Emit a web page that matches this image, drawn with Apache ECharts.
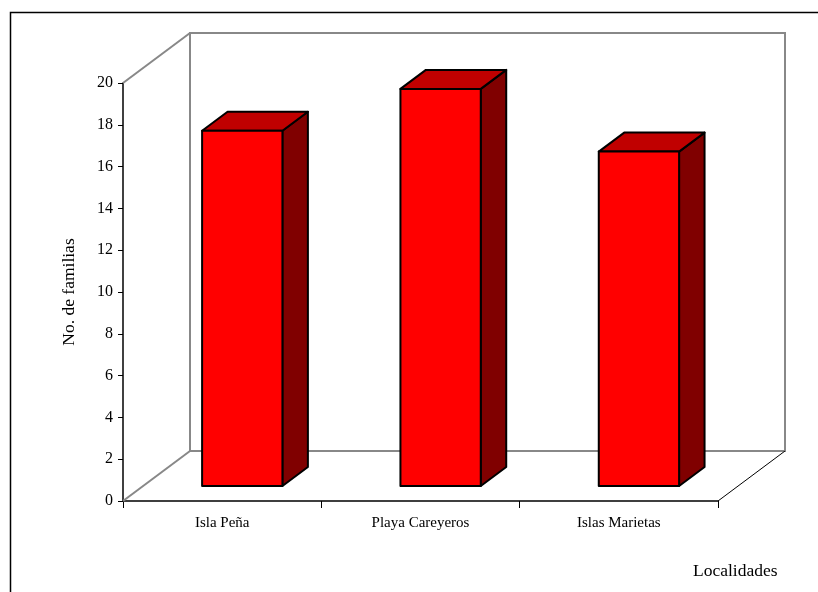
<!DOCTYPE html>
<html>
<head>
<meta charset="utf-8">
<script src="https://cdn.jsdelivr.net/npm/echarts@6/dist/echarts.min.js"></script>
<style>
  html, body { margin: 0; padding: 0; background: #fff; }
  #chart { width: 818px; height: 592px; }
</style>
</head>
<body>
<div id="chart"></div>
<script>
// datos
const categories = ['Isla Peña', 'Playa Careyeros', 'Islas Marietas'];
const familias = [17, 19, 16];
const yTicks = [0, 2, 4, 6, 8, 10, 12, 14, 16, 18, 20];

// profundidad del efecto 3D
const DX = 67, DY = -50;
const F0 = 0.3, F1 = 0.68;
const FONT = 'Liberation Serif';

const chart = echarts.init(document.getElementById('chart'));

function renderWalls(params, api) {
  const cs = params.coordSys;
  const x0 = cs.x, x1 = cs.x + cs.width;
  const yTop = api.coord([0, yTicks[yTicks.length - 1]])[1];
  const yBot = api.coord([0, yTicks[0]])[1];
  const gray = { stroke: '#888', lineWidth: 2, fill: null };
  return {
    type: 'group',
    children: [
      { type: 'polyline', shape: { points: [[x0 + DX, yBot + DY], [x0 + DX, yTop + DY], [x1 + DX, yTop + DY], [x1 + DX, yBot + DY], [x0 + DX, yBot + DY]] }, style: gray },
      { type: 'line', shape: { x1: x0, y1: yTop, x2: x0 + DX, y2: yTop + DY }, style: gray },
      { type: 'line', shape: { x1: x0, y1: yBot, x2: x0 + DX, y2: yBot + DY }, style: gray },
      { type: 'line', shape: { x1: x1, y1: yBot, x2: x1 + DX, y2: yBot + DY }, style: { stroke: '#000', lineWidth: 1 } }
    ]
  };
}

function renderBar(params, api) {
  const i = api.value(0);
  const base = api.coord([i, 0]);
  const top = api.coord([i, api.value(1)]);
  const band = api.size([1, 0])[0];
  const w = band * 0.405;
  const fx = base[0] + DX * F0 - w / 2;
  const fyb = base[1] + DY * F0;
  const fyt = top[1] + DY * F0;
  const ddx = DX * (F1 - F0), ddy = DY * (F1 - F0);
  const edge = { stroke: '#000', lineWidth: 2, lineJoin: 'round' };
  return {
    type: 'group',
    children: [
      { type: 'polygon', shape: { points: [[fx + w, fyt], [fx + w + ddx, fyt + ddy], [fx + w + ddx, fyb + ddy], [fx + w, fyb]] }, style: Object.assign({ fill: '#800000' }, edge) },
      { type: 'polygon', shape: { points: [[fx, fyt], [fx + ddx, fyt + ddy], [fx + w + ddx, fyt + ddy], [fx + w, fyt]] }, style: Object.assign({ fill: '#c00000' }, edge) },
      { type: 'rect', shape: { x: fx, y: fyt, width: w, height: fyb - fyt }, style: Object.assign({ fill: '#ff0000' }, edge) }
    ]
  };
}

chart.setOption({
  animation: false,
  backgroundColor: '#fff',
  grid: { left: 123, right: 100, top: 83, bottom: 91 },
  xAxis: {
    type: 'category',
    data: categories,
    axisLine: { lineStyle: { color: '#000', width: 1.5 } },
    axisTick: { show: true, interval: 0, length: 7, lineStyle: { color: '#000', width: 1 } },
    axisLabel: { color: '#000', fontFamily: FONT, fontSize: 15, margin: 15 }
  },
  yAxis: {
    type: 'value',
    min: 0, max: 20, interval: 2,
    name: 'No. de familias',
    nameLocation: 'middle',
    nameGap: 45,
    nameRotate: 90,
    nameTextStyle: { color: '#000', fontFamily: FONT, fontSize: 17.5 },
    axisLine: { show: true, lineStyle: { color: '#000', width: 1.5 } },
    axisTick: { show: true, length: 5, lineStyle: { color: '#000' } },
    axisLabel: { color: '#000', fontFamily: FONT, fontSize: 16, margin: 10 },
    splitLine: { show: false }
  },
  graphic: [
    { type: 'rect', shape: { x: 10.5, y: 12.5, width: 900, height: 700 }, style: { fill: null, stroke: '#000', lineWidth: 1.5 }, z: 100 },
    { type: 'text', left: 693, top: 562, style: { text: 'Localidades', fontFamily: FONT, fontSize: 17.5, fill: '#000' } }
  ],
  series: [
    { type: 'custom', silent: true, z: 1, renderItem: renderWalls, data: [[0, 0]] },
    { type: 'custom', z: 2, renderItem: renderBar, data: familias.map((v, i) => [i, v]) }
  ]
});
</script>
</body>
</html>
